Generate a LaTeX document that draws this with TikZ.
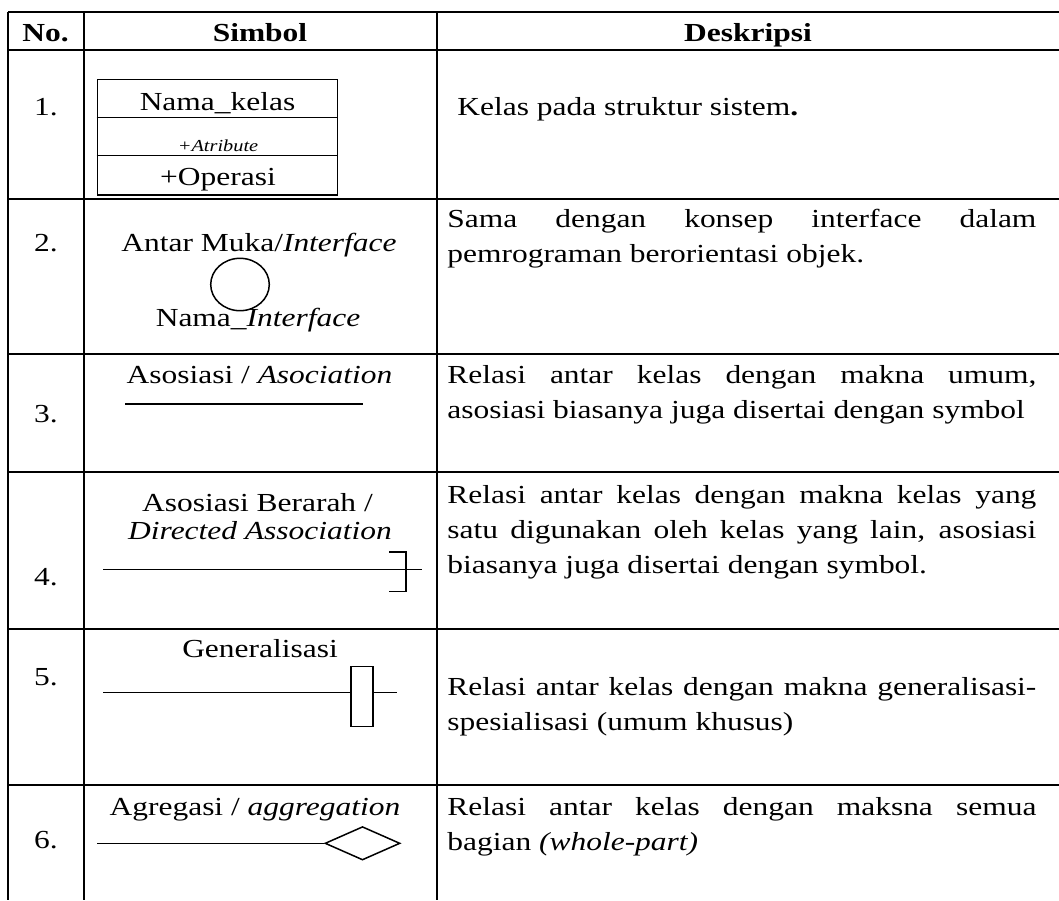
\documentclass[tikz,border=0pt]{standalone}
\usepackage{fontspec}
\setmainfont{Liberation Serif}[FakeStretch=1.21]
\usetikzlibrary{shapes.geometric}

\begin{document}
\begin{tikzpicture}
	[x=0.5pt,y=-0.5pt,
	grid/.style={line width=1pt},
	sym/.style={line width=0.75pt},
	txt/.style={inner sep=0pt,anchor=base,font=\fontsize{13}{14}\selectfont},
	head/.style={txt,font=\fontsize{13}{14}\selectfont\bfseries},
	desc/.style={inner sep=0pt,anchor=base west,text width=294.5pt,align=justify,font=\fontsize{13}{17.5}\selectfont}]
	\useasboundingbox (0,0) rectangle (1059,900);
	
	% table lines
	\foreach \y in {12.3,50,198.5,354,472,629,785}
	\draw[grid] (8.3,\y) -- (1059,\y);
	\foreach \x in {8.3,83.5,437.3}
	\draw[grid] (\x,12.3) -- (\x,900);
	
	\node[head] (hno) at (45.5,41.7) {No.};
	\node[head] (hsim) at (260,41.7) {Simbol};
	\node[head] (hdes) at (748,41.7) {Deskripsi};
	
	\foreach \i/\y in {1/115,2/251.7,3/422,4/585,5/685,6/848}
	\node[txt] (n\i) at (46,\y) {\i.};
	
	% 1. kelas
	\node[draw,sym,minimum width=120.2pt,minimum height=57.85pt,inner sep=0pt] (kelas) at (217.5,137.15) {};
	\draw[sym] (kelas.west |- 0,117.3) -- (kelas.east |- 0,117.3);
	\draw[sym] (kelas.west |- 0,155.7) -- (kelas.east |- 0,155.7);
	\node[txt] (nk) at (217.5,110) {Nama\_kelas};
	\node[txt,font=\fontsize{8.4}{9}\selectfont\itshape] (atr) at (218,151.7) {+Atribute};
	\node[txt] (op) at (218,185) {+Operasi};
	
	% 2. interface
	\node[txt] (am) at (259,251.7) {Antar Muka/\textit{Interface}};
	\node[draw,sym,ellipse,minimum width=29.3pt,minimum height=26.2pt,inner sep=0pt] (ifc) at (240,284.5) {};
	\node[txt] (ni) at (258,326.7) {Nama\_\textit{Interface}};
	
	% 3. asosiasi
	\node[txt] (as) at (259.5,383) {Asosiasi / \textit{Asociation}};
	\coordinate (a3) at (125,404);
	\coordinate (b3) at (362.7,404);
	\draw[sym] (a3) -- (b3);
	
	% 4. asosiasi berarah
	\node[txt] (ab) at (257.5,511) {Asosiasi Berarah /};
	\node[txt] (da) at (260,539) {\textit{Directed Association}};
	\coordinate (a4) at (103,569.5);
	\coordinate (b4) at (422,569.5);
	\draw[sym] (a4) -- (b4);
	\draw[sym] (389,552) -- (406,552) -- (406,591.5) -- (389,591.5);
	
	% 5. generalisasi
	\node[txt] (gl) at (260,657.5) {Generalisasi};
	\node[draw,sym,minimum width=11pt,minimum height=30pt,inner sep=0pt] (gen) at (362,696.7) {};
	\coordinate (a5) at (103,692.7);
	\coordinate (b5) at (396.7,692.7);
	\draw[sym] (a5) -- (a5 -| gen.west);
	\draw[sym] (gen.east |- a5) -- (b5);
	
	% 6. agregasi
	\node[txt] (ag) at (255,815) {Agregasi / \textit{aggregation}};
	\node[draw,sym,diamond,minimum width=37.5pt,minimum height=16.7pt,inner sep=0pt] (dia) at (362.5,843.3) {};
	\coordinate (a6) at (97,843.3);
	\draw[sym] (a6) -- (dia.west);
	
	% deskripsi
	\node[desc] (d1) at (457,115) {Kelas pada struktur sistem\textbf{.}};
	\node[desc] (d2) at (447,227) {Sama dengan konsep interface dalam\linebreak pemrograman berorientasi objek.};
	\node[desc] (d3) at (447,383) {Relasi antar kelas dengan makna umum,\linebreak asosiasi biasanya juga disertai dengan symbol};
	\node[desc] (d4) at (447,503) {Relasi antar kelas dengan makna kelas yang\linebreak satu digunakan oleh kelas yang lain, asosiasi\linebreak biasanya juga disertai dengan symbol.};
	\node[desc] (d5) at (447,695) {Relasi antar kelas dengan makna generalisasi-\linebreak spesialisasi (umum khusus)};
	\node[desc] (d6) at (447,815) {Relasi antar kelas dengan maksna semua\linebreak bagian \textit{(whole-part)}};
	\end{tikzpicture}
\end{document}
